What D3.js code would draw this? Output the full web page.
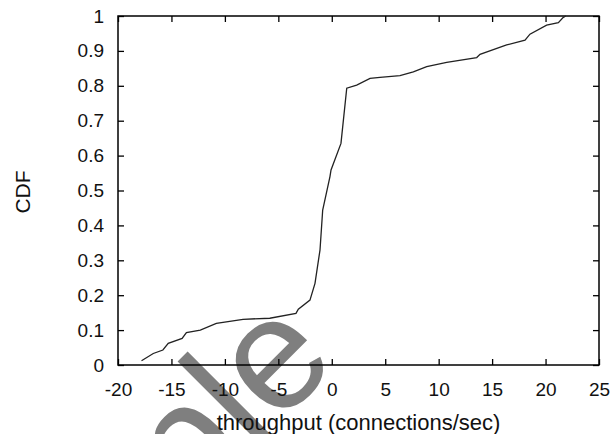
<!DOCTYPE html>
<html>
<head>
<meta charset="utf-8">
<script src="https://cdn.jsdelivr.net/npm/d3@7"></script>
<style>
  body { margin: 0; background: #fff; }
  svg { display: block; }
</style>
</head>
<body>
<script>
var w = 616;
var h = 434;

// CDF curve
var throughput = [-17.8, -16.7, -15.8, -15.3, -14.0, -13.6, -12.3, -10.8, -8.3, -5.8,
    -3.35, -3.13, -2.04, -1.57, -1.10, -0.85, -0.17, -0.07, 0.86, 1.40,
    2.33, 3.58, 4.51, 6.38, 7.63, 8.88, 10.75, 13.56, 13.87, 16.36,
    18.08, 18.54, 20.1, 21.2, 21.66, 21.9];
var cdf = [0.012, 0.033, 0.043, 0.062, 0.076, 0.093, 0.100, 0.119, 0.131, 0.134,
    0.148, 0.160, 0.186, 0.234, 0.33, 0.444, 0.540, 0.559, 0.635, 0.793,
    0.802, 0.821, 0.824, 0.829, 0.840, 0.855, 0.867, 0.881, 0.890, 0.917,
    0.931, 0.948, 0.974, 0.981, 0.996, 1.0];

var xTicks = [-20, -15, -10, -5, 0, 5, 10, 15, 20, 25];
var xTickLabels = ["-20", "-15", "-10", "-5", "0", "5", "10", "15", "20", "25"];
var yTicks = [0, 0.1, 0.2, 0.3, 0.4, 0.5, 0.6, 0.7, 0.8, 0.9, 1];
var yTickLabels = ["0", "0.1", "0.2", "0.3", "0.4", "0.5", "0.6", "0.7", "0.8", "0.9", "1"];

var plotLeft = 118, plotRight = 599, plotTop = 16, plotBottom = 365;
var font = "'Liberation Sans', Arial, Helvetica, sans-serif";

var svg = d3.select("body")
    .append("svg")
    .attr("width", w)
    .attr("height", h);

var x = d3.scaleLinear().domain([-20, 25]).range([plotLeft, plotRight]);
var y = d3.scaleLinear().domain([0, 1]).range([plotBottom, plotTop]);

// watermark sits underneath everything
svg.append("text")
    .text("Sample")
    .attr("transform", "translate(340,363) rotate(-45)")
    .attr("text-anchor", "end")
    .attr("font-family", font)
    .attr("font-size", "160px")
    .attr("fill", "#7f7f7f");

function styleAxis(g) {
    g.select(".domain").remove();
    g.selectAll(".tick line").attr("stroke", "#000").attr("stroke-width", 1.3);
    g.selectAll("text")
        .attr("font-family", font)
        .attr("font-size", "19px")
        .attr("fill", "#111");
}

svg.append("g")
    .attr("transform", "translate(0," + plotBottom + ")")
    .call(d3.axisBottom(x).tickValues(xTicks).tickSizeInner(-6).tickSizeOuter(0).tickPadding(17.5)
        .tickFormat(function(d, i) { return xTickLabels[i]; }))
    .call(styleAxis);

svg.append("g")
    .attr("transform", "translate(0," + plotTop + ")")
    .call(d3.axisTop(x).tickValues(xTicks).tickSizeInner(-6).tickSizeOuter(0).tickFormat(""))
    .call(styleAxis);

svg.append("g")
    .attr("transform", "translate(" + plotLeft + ",0)")
    .call(d3.axisLeft(y).tickValues(yTicks).tickSizeInner(-6).tickSizeOuter(0).tickPadding(14)
        .tickFormat(function(d, i) { return yTickLabels[i]; }))
    .call(styleAxis);

svg.append("g")
    .attr("transform", "translate(" + plotRight + ",0)")
    .call(d3.axisRight(y).tickValues(yTicks).tickSizeInner(-6).tickSizeOuter(0).tickFormat(""))
    .call(styleAxis);

svg.append("rect")
    .attr("x", plotLeft)
    .attr("y", plotTop)
    .attr("width", plotRight - plotLeft)
    .attr("height", plotBottom - plotTop)
    .attr("fill", "none")
    .attr("stroke", "#000")
    .attr("stroke-width", 1.5);

var line = d3.line()
    .x(function(d, i) { return x(throughput[i]); })
    .y(function(d, i) { return y(cdf[i]); });

svg.append("path")
    .datum(cdf)
    .attr("d", line)
    .attr("fill", "none")
    .attr("stroke", "#222")
    .attr("stroke-width", 1.3);

svg.append("text")
    .text("CDF")
    .attr("transform", "translate(30,192) rotate(-90)")
    .attr("text-anchor", "middle")
    .attr("font-family", font)
    .attr("font-size", "21px")
    .attr("fill", "#111");

svg.append("text")
    .text("throughput (connections/sec)")
    .attr("x", (plotLeft + plotRight) / 2)
    .attr("y", 430)
    .attr("text-anchor", "middle")
    .attr("font-family", font)
    .attr("font-size", "22px")
    .attr("fill", "#111");
</script>
</body>
</html>
